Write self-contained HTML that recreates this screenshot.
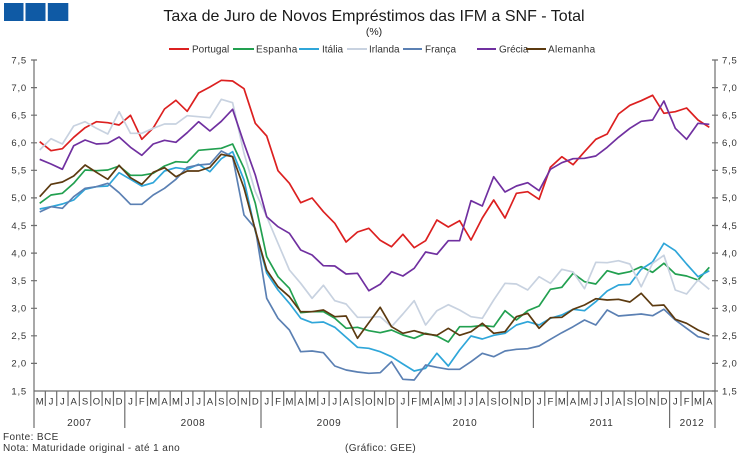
<!DOCTYPE html>
<html><head><meta charset="utf-8"><style>
html,body{margin:0;padding:0;background:#fff;}
svg{display:block;font-family:"Liberation Sans",Arial,sans-serif;}
</style></head><body>
<svg width="748" height="458" viewBox="0 0 748 458" xmlns="http://www.w3.org/2000/svg">
<rect width="748" height="458" fill="#fff"/>
<rect x="4" y="3" width="19.5" height="18" fill="#0f5aa5"/>
<rect x="25.5" y="3" width="20" height="18" fill="#0f5aa5"/>
<rect x="47.8" y="3" width="20.5" height="18" fill="#0f5aa5"/>
<text x="374" y="21" font-size="16" text-anchor="middle" fill="#1a1a1a">Taxa de Juro de Novos Empréstimos  das IFM a SNF - Total</text>
<text x="374" y="35" font-size="10.5" text-anchor="middle" fill="#222">(%)</text>
<g font-size="10" fill="#333" stroke-width="2">
<line x1="169" y1="49" x2="189" y2="49" stroke="#dc2020"/><text x="192" y="52.5">Portugal</text>
<line x1="233" y1="49" x2="254" y2="49" stroke="#22a050"/><text x="256" y="52.5" letter-spacing="0.3">Espanha</text>
<line x1="299" y1="49" x2="319" y2="49" stroke="#2fa6d9"/><text x="322" y="52.5">Itália</text>
<line x1="347" y1="49" x2="367" y2="49" stroke="#c8d2e0"/><text x="369" y="52.5">Irlanda</text>
<line x1="403" y1="49" x2="422" y2="49" stroke="#5b80b3"/><text x="425" y="52.5">França</text>
<line x1="477" y1="49" x2="496" y2="49" stroke="#7030a0"/><text x="499" y="52.5">Grécia</text>
<line x1="526" y1="49" x2="546" y2="49" stroke="#5c3a10"/><text x="548" y="52.5" letter-spacing="0.3">Alemanha</text>
</g>
<g stroke="#6e6e6e" stroke-width="1.2" fill="none">
<line x1="34" y1="60" x2="34" y2="428"/>
<line x1="715" y1="60" x2="715" y2="428"/>
<line x1="34" y1="391" x2="715" y2="391"/>
<path d="M31 60H37M31 87.6H37M31 115.2H37M31 142.8H37M31 170.3H37M31 197.9H37M31 225.5H37M31 253.1H37M31 280.7H37M31 308.3H37M31 335.8H37M31 363.4H37
M712 60H718M712 87.6H718M712 115.2H718M712 142.8H718M712 170.3H718M712 197.9H718M712 225.5H718M712 253.1H718M712 280.7H718M712 308.3H718M712 335.8H718M712 363.4H718M712 391H718"/>
<path d="M45.35 391V406M56.7 391V406M68.05 391V406M79.4 391V406M90.75 391V406M102.1 391V406M113.45 391V406M124.8 391V428M136.15 391V406M147.5 391V406M158.85 391V406M170.2 391V406M181.55 391V406M192.9 391V406M204.25 391V406M215.6 391V406M226.95 391V406M238.3 391V406M249.65 391V406M261 391V428M272.35 391V406M283.7 391V406M295.05 391V406M306.4 391V406M317.75 391V406M329.1 391V406M340.45 391V406M351.8 391V406M363.15 391V406M374.5 391V406M385.85 391V406M397.2 391V428M408.55 391V406M419.9 391V406M431.25 391V406M442.6 391V406M453.95 391V406M465.3 391V406M476.65 391V406M488 391V406M499.35 391V406M510.7 391V406M522.05 391V406M533.4 391V428M544.75 391V406M556.1 391V406M567.45 391V406M578.8 391V406M590.15 391V406M601.5 391V406M612.85 391V406M624.2 391V406M635.55 391V406M646.9 391V406M658.25 391V406M669.6 391V428M680.95 391V406M692.3 391V406M703.65 391V406"/>
</g>
<g font-size="9.5" fill="#333" letter-spacing="0.8" text-anchor="end">
<text x="27" y="63.5">7,5</text><text x="27" y="91">7,0</text><text x="27" y="118.5">6,5</text><text x="27" y="146">6,0</text><text x="27" y="173.5">5,5</text><text x="27" y="201">5,0</text><text x="27" y="229">4,5</text><text x="27" y="256.5">4,0</text><text x="27" y="284">3,5</text><text x="27" y="311.5">3,0</text><text x="27" y="339">2,5</text><text x="27" y="366.5">2,0</text><text x="27" y="394.5">1,5</text>
</g>
<g font-size="9.5" fill="#333" letter-spacing="0.8">
<text x="722" y="63.5">7,5</text><text x="722" y="91">7,0</text><text x="722" y="118.5">6,5</text><text x="722" y="146">6,0</text><text x="722" y="173.5">5,5</text><text x="722" y="201">5,0</text><text x="722" y="229">4,5</text><text x="722" y="256.5">4,0</text><text x="722" y="284">3,5</text><text x="722" y="311.5">3,0</text><text x="722" y="339">2,5</text><text x="722" y="366.5">2,0</text><text x="722" y="394.5">1,5</text>
</g>
<g font-size="9.5" fill="#333" text-anchor="middle">
<text x="39.7" y="404.5">M</text><text x="51.0" y="404.5">J</text><text x="62.4" y="404.5">J</text><text x="73.7" y="404.5">A</text><text x="85.1" y="404.5">S</text><text x="96.4" y="404.5">O</text><text x="107.8" y="404.5">N</text><text x="119.1" y="404.5">D</text>
<text x="130.5" y="404.5">J</text><text x="141.8" y="404.5">F</text><text x="153.2" y="404.5">M</text><text x="164.5" y="404.5">A</text><text x="175.9" y="404.5">M</text><text x="187.2" y="404.5">J</text><text x="198.6" y="404.5">J</text><text x="209.9" y="404.5">A</text><text x="221.3" y="404.5">S</text><text x="232.6" y="404.5">O</text><text x="244.0" y="404.5">N</text><text x="255.3" y="404.5">D</text>
<text x="266.7" y="404.5">J</text><text x="278.0" y="404.5">F</text><text x="289.4" y="404.5">M</text><text x="300.7" y="404.5">A</text><text x="312.1" y="404.5">M</text><text x="323.4" y="404.5">J</text><text x="334.8" y="404.5">J</text><text x="346.1" y="404.5">A</text><text x="357.5" y="404.5">S</text><text x="368.8" y="404.5">O</text><text x="380.2" y="404.5">N</text><text x="391.5" y="404.5">D</text>
<text x="402.9" y="404.5">J</text><text x="414.2" y="404.5">F</text><text x="425.6" y="404.5">M</text><text x="436.9" y="404.5">A</text><text x="448.3" y="404.5">M</text><text x="459.6" y="404.5">J</text><text x="471.0" y="404.5">J</text><text x="482.3" y="404.5">A</text><text x="493.7" y="404.5">S</text><text x="505.0" y="404.5">O</text><text x="516.4" y="404.5">N</text><text x="527.7" y="404.5">D</text>
<text x="539.1" y="404.5">J</text><text x="550.4" y="404.5">F</text><text x="561.8" y="404.5">M</text><text x="573.1" y="404.5">A</text><text x="584.5" y="404.5">M</text><text x="595.8" y="404.5">J</text><text x="607.2" y="404.5">J</text><text x="618.5" y="404.5">A</text><text x="629.9" y="404.5">S</text><text x="641.2" y="404.5">O</text><text x="652.6" y="404.5">N</text><text x="663.9" y="404.5">D</text>
<text x="675.3" y="404.5">J</text><text x="686.6" y="404.5">F</text><text x="698.0" y="404.5">M</text><text x="709.3" y="404.5">A</text>
</g>
<g font-size="10" fill="#333" text-anchor="middle" letter-spacing="0.6">
<text x="79.4" y="426">2007</text><text x="193" y="426">2008</text><text x="329" y="426">2009</text><text x="465" y="426">2010</text><text x="601.5" y="426">2011</text><text x="692" y="426">2012</text>
</g>
<g font-size="10" fill="#333" letter-spacing="0.4">
<text x="3" y="440">Fonte: BCE</text>
<text x="3" y="451">Nota: Maturidade original - até 1 ano</text>
<text x="345" y="451">(Gráfico: GEE)</text>
</g>
<g fill="none" stroke-width="1.7" stroke-linejoin="round">
<polyline stroke="#dc2020" points="39.7,141.7 51.0,150.7 62.4,148.7 73.7,137.3 85.1,127.7 96.4,121.7 107.8,122.7 119.1,125 130.5,115.3 141.8,139.3 153.2,128 164.5,109 175.9,100.3 187.2,111.3 198.6,93 209.9,87 221.3,80.3 232.6,81 244.0,88.7 255.3,123.3 266.7,136 278.0,170.7 289.4,183.3 300.7,202.7 312.1,198 323.4,211.7 334.8,223.3 346.1,242 357.5,232 368.8,228.3 380.2,240.3 391.5,246.7 402.9,234.3 414.2,247.7 425.6,240.7 436.9,220 448.3,227 459.6,220.7 471.0,240 482.3,218 493.7,200 505.0,218 516.4,193.3 527.7,191.7 539.1,199.3 550.4,167.3 561.8,156.7 573.1,164.7 584.5,151.7 595.8,139.3 607.2,134 618.5,114 629.9,105.3 641.2,100.7 652.6,95.3 663.9,113.3 675.3,111.7 686.6,108 698.0,120 709.3,127.3"/>
<polyline stroke="#22a050" points="39.7,203.3 51.0,195 62.4,193.3 73.7,183.3 85.1,170 96.4,170.7 107.8,170 119.1,166 130.5,175.3 141.8,175.3 153.2,173.3 164.5,166 175.9,161.7 187.2,162.3 198.6,150.3 209.9,149.3 221.3,148.3 232.6,144 244.0,168.3 255.3,203.3 266.7,256.7 278.0,276.7 289.4,288.3 300.7,312.7 312.1,311.7 323.4,311.7 334.8,318.3 346.1,328.3 357.5,327.3 368.8,330.7 380.2,332.7 391.5,330 402.9,335 414.2,338.3 425.6,333.3 436.9,336 448.3,342 459.6,326.7 471.0,326.7 482.3,325.5 493.7,326.7 505.0,310.7 516.4,320 527.7,310.7 539.1,306 550.4,289.3 561.8,287.3 573.1,273.3 584.5,281.7 595.8,284 607.2,270.7 618.5,274 629.9,271.7 641.2,266.7 652.6,272.3 663.9,263.3 675.3,274 686.6,276 698.0,280 709.3,267.3"/>
<polyline stroke="#2fa6d9" points="39.7,209 51.0,206.7 62.4,204 73.7,200 85.1,189.3 96.4,186.7 107.8,186 119.1,172.7 130.5,179.3 141.8,186 153.2,182.7 164.5,171 175.9,167.7 187.2,169.3 198.6,164.3 209.9,171.7 221.3,158.7 232.6,151.7 244.0,180 255.3,231 266.7,273 278.0,290 289.4,303.3 300.7,318.3 312.1,322.7 323.4,322 334.8,327.3 346.1,337.3 357.5,347.3 368.8,348.3 380.2,351.7 391.5,356.7 402.9,364 414.2,371 425.6,368.3 436.9,353.3 448.3,366 459.6,350 471.0,336 482.3,339 493.7,335.3 505.0,333.3 516.4,325 527.7,321.7 539.1,325 550.4,318.3 561.8,315 573.1,309.3 584.5,310.7 595.8,301.7 607.2,291 618.5,285 629.9,284.3 641.2,269.3 652.6,262 663.9,243.3 675.3,250.7 686.6,264 698.0,276.7 709.3,270.7"/>
<polyline stroke="#c8d2e0" points="39.7,150 51.0,138.7 62.4,144 73.7,126 85.1,121.7 96.4,128.3 107.8,134 119.1,111.7 130.5,133.3 141.8,133.3 153.2,128.3 164.5,124 175.9,124 187.2,115.7 198.6,116.7 209.9,117.7 221.3,99.3 232.6,102.7 244.0,153.3 255.3,191.7 266.7,216.7 278.0,243.3 289.4,270 300.7,283.3 312.1,298.3 323.4,285.3 334.8,300.7 346.1,304 357.5,317.3 368.8,317.3 380.2,316.7 391.5,326.7 402.9,314 414.2,300.7 425.6,325 436.9,310.7 448.3,304.7 459.6,310 471.0,316.7 482.3,318.3 493.7,300 505.0,283.3 516.4,284 527.7,290 539.1,276.7 550.4,283.3 561.8,269.3 573.1,272 584.5,288.7 595.8,262.3 607.2,262.7 618.5,260.7 629.9,264 641.2,286.7 652.6,263.3 663.9,255.3 675.3,290 686.6,294 698.0,280 709.3,289.3"/>
<polyline stroke="#5b80b3" points="39.7,212 51.0,206.7 62.4,208.3 73.7,196.7 85.1,188.3 96.4,186.7 107.8,183.3 119.1,192.7 130.5,204.3 141.8,204.3 153.2,195 164.5,188.3 175.9,179.3 187.2,167.3 198.6,165 209.9,164 221.3,151 232.6,156.7 244.0,215 255.3,228.3 266.7,298.3 278.0,318.3 289.4,330 300.7,351.7 312.1,351 323.4,352.7 334.8,366 346.1,370 357.5,372 368.8,373.3 380.2,372.7 391.5,361.7 402.9,379.3 414.2,380 425.6,365 436.9,367.3 448.3,369.3 459.6,369.3 471.0,361.7 482.3,353.3 493.7,356.7 505.0,351 516.4,349.3 527.7,348.7 539.1,346 550.4,339.3 561.8,332.7 573.1,326.7 584.5,320 595.8,325 607.2,310 618.5,316 629.9,315 641.2,314 652.6,315.7 663.9,309.3 675.3,320 686.6,328.3 698.0,336.7 709.3,339.3"/>
<polyline stroke="#7030a0" points="39.7,159.3 51.0,164 62.4,169.3 73.7,145.7 85.1,140 96.4,144 107.8,143.3 119.1,137 130.5,147.3 141.8,155.3 153.2,144 164.5,140.3 175.9,142.3 187.2,132.7 198.6,121.7 209.9,131 221.3,121.3 232.6,109.3 244.0,143.3 255.3,175 266.7,216.7 278.0,226.7 289.4,233.3 300.7,250 312.1,255 323.4,265.7 334.8,266 346.1,274 357.5,273.3 368.8,290.7 380.2,284.3 391.5,271.7 402.9,276 414.2,268.3 425.6,252 436.9,254.3 448.3,240.7 459.6,240.7 471.0,200.7 482.3,206 493.7,176.7 505.0,192 516.4,186 527.7,182.7 539.1,190.7 550.4,169.3 561.8,162.7 573.1,158.7 584.5,158.3 595.8,156 607.2,147.3 618.5,137.3 629.9,128.3 641.2,121.3 652.6,120 663.9,101 675.3,128.3 686.6,139.3 698.0,123.3 709.3,124.3"/>
<polyline stroke="#5c3a10" points="39.7,196.7 51.0,184.3 62.4,182 73.7,176 85.1,165 96.4,172.3 107.8,179.3 119.1,165.3 130.5,177.7 141.8,184.3 153.2,172.3 164.5,167.7 175.9,176.7 187.2,171 198.6,171 209.9,167.3 221.3,154.3 232.6,156.7 244.0,188 255.3,230 266.7,270 278.0,286.7 289.4,296.7 300.7,311.7 312.1,311.7 323.4,310 334.8,316.7 346.1,316 357.5,338.3 368.8,322.7 380.2,307.3 391.5,326.7 402.9,333.3 414.2,330.7 425.6,334 436.9,335.3 448.3,328.3 459.6,335.3 471.0,331.7 482.3,323.3 493.7,333.3 505.0,331.7 516.4,316.7 527.7,313.3 539.1,328.3 550.4,317.7 561.8,317.3 573.1,309.3 584.5,305 595.8,298.7 607.2,300 618.5,299.3 629.9,302 641.2,293.3 652.6,305.7 663.9,305 675.3,319.3 686.6,323.3 698.0,330 709.3,335"/>
</g>
</svg>
</body></html>
